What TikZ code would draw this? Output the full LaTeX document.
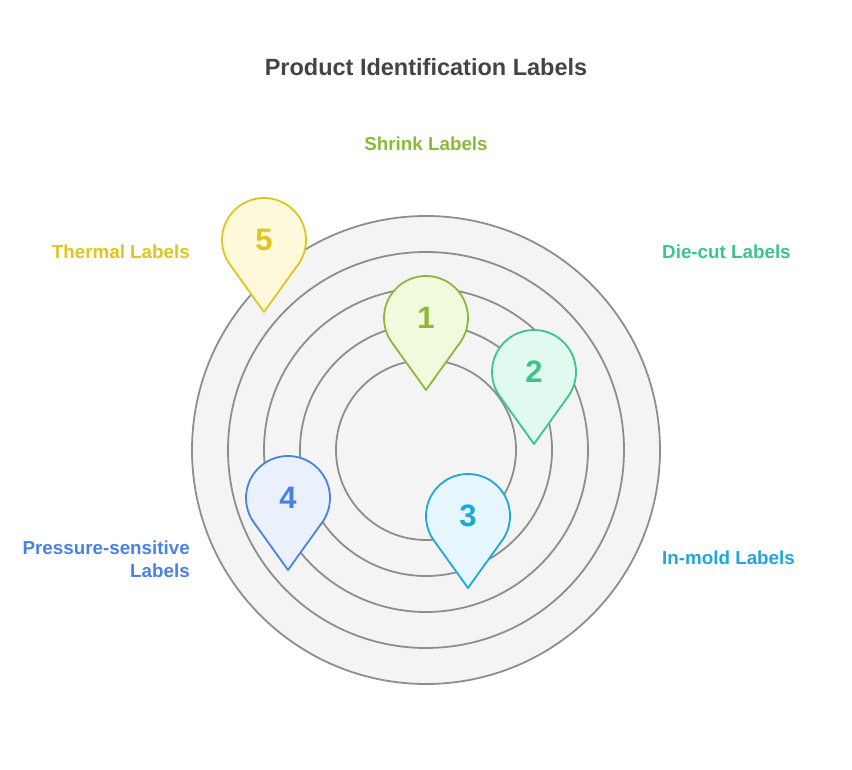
\documentclass[tikz,border=0pt]{standalone}
\usepackage{fontspec}
\setmainfont{Liberation Sans}
\definecolor{ring}{HTML}{8E8E8E}
\definecolor{ringfill}{HTML}{F4F4F4}
\definecolor{cA}{HTML}{8DB83A}\definecolor{fA}{HTML}{F1FADD}
\definecolor{cB}{HTML}{3CC48A}\definecolor{fB}{HTML}{E1FAEF}
\definecolor{cC}{HTML}{1EA8D8}\definecolor{fC}{HTML}{E6F6FC}
\definecolor{cD}{HTML}{4A82E0}\definecolor{fD}{HTML}{EAF0FC}
\definecolor{cE}{HTML}{DEC61E}\definecolor{fE}{HTML}{FFF9DC}
\definecolor{titlec}{HTML}{444444}
\tikzset{ringc/.style={draw=ring,fill=ringfill,line width=1.8pt},
lbl/.style={font=\bfseries\fontsize{18.8}{22}\selectfont,inner sep=0pt},
num/.style={font=\bfseries\fontsize{31}{34}\selectfont,inner sep=0pt}}
\newcommand{\mypin}[5]{%
\coordinate (#1c) at (#2,#3);
\coordinate (#1t) at (#2,#3-72);
\draw[draw=#4,fill=#5,line width=1.8pt,line join=round] (#1t) -- ($(#1c)+(215.7:42)$) arc[start angle=215.7,end angle=-35.7,radius=42] -- cycle;
}
\usetikzlibrary{calc}
\begin{document}
\begin{tikzpicture}[x=1pt,y=1pt]
\useasboundingbox (0,0) rectangle (852,769);
\node[ringc,circle,minimum size=468pt] (r5) at (426,319) {};
\node[ringc,circle,minimum size=396pt] (r4) at (426,319) {};
\node[ringc,circle,minimum size=324pt] (r3) at (426,319) {};
\node[ringc,circle,minimum size=252pt] (r2) at (426,319) {};
\node[ringc,circle,minimum size=180pt] (r1) at (426,319) {};
\mypin{pe}{264}{529}{cE}{fE}
\node[num,text=cE] (n5) at (pec) {5};
\mypin{pa}{426}{451}{cA}{fA}
\node[num,text=cA] (n1) at (pac) {1};
\mypin{pb}{534}{397}{cB}{fB}
\node[num,text=cB] (n2) at (pbc) {2};
\mypin{pc}{468}{253}{cC}{fC}
\node[num,text=cC] (n3) at (pcc) {3};
\mypin{pd}{288}{271}{cD}{fD}
\node[num,text=cD] (n4) at (pdc) {4};
\node[font=\bfseries\fontsize{23.5}{26}\selectfont,text=titlec] (title) at (426,702) {Product Identification Labels};
\node[lbl,text=cA] (l1) at (426,625) {Shrink Labels};
\node[lbl,text=cB,anchor=west] (l2) at (662,517) {Die-cut Labels};
\node[lbl,text=cC,anchor=west] (l3) at (662,211) {In-mold Labels};
\node[lbl,text=cE,anchor=east] (l5) at (190,517) {Thermal Labels};
\node[lbl,text=cD,anchor=east,align=right,font=\bfseries\fontsize{18.8}{23}\selectfont] (l4) at (190,210) {Pressure-sensitive\\Labels};
\end{tikzpicture}
\end{document}
